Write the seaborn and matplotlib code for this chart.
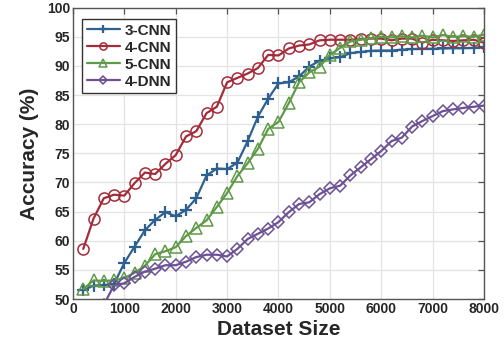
import numpy as np
import pandas as pd
import matplotlib
matplotlib.use("Agg")
import matplotlib.pyplot as plt
import seaborn as sns

# dataset sizes (x) and accuracy values
sizes = [200, 400, 600, 800, 1000, 1200, 1400, 1600, 1800, 2000,
         2200, 2400, 2600, 2800, 3000, 3200, 3400, 3600, 3800, 4000,
         4200, 4400, 4600, 4800, 5000, 5200, 5400, 5600, 5800, 6000,
         6200, 6400, 6600, 6800, 7000, 7200, 7400, 7600, 7800, 8000]

cnn3 = [51.5, 52.3, 52.4, 52.6, 56.2, 59.0, 61.8, 63.6, 64.9, 64.2,
        65.3, 67.3, 71.2, 72.4, 72.3, 73.4, 77.1, 81.3, 84.4, 87.0,
        87.2, 88.2, 89.9, 90.9, 91.3, 91.5, 92.2, 92.4, 92.6, 92.65,
        92.65, 92.8, 92.9, 92.95, 92.95, 93.0, 93.05, 93.05, 93.1, 93.2]

cnn4 = [58.6, 63.8, 67.3, 67.9, 67.75, 69.9, 71.7, 71.45, 73.2, 74.7,
        77.9, 78.8, 81.9, 83.0, 87.2, 87.95, 88.7, 89.65, 91.9, 91.8,
        93.0, 93.5, 93.7, 94.4, 94.5, 94.5, 94.5, 94.6, 94.7, 94.7,
        94.4, 94.7, 94.7, 94.0, 94.5, 94.4, 94.3, 94.4, 94.5, 94.0]

cnn5 = [51.7, 53.2, 53.1, 53.2, 53.6, 54.5, 55.7, 57.7, 58.2, 58.9,
        60.8, 62.2, 63.5, 65.8, 68.2, 71.1, 73.3, 75.8, 79.2, 80.4,
        83.6, 87.2, 88.9, 89.9, 91.9, 93.1, 94.2, 94.5, 94.8, 95.0,
        94.9, 95.1, 94.9, 95.2, 94.9, 95.3, 95.0, 95.1, 95.0, 95.4]

dnn4 = [np.nan, np.nan, 49.0, 52.4, 52.7, 53.8, 54.7, 55.2, 55.8, 55.8,
        56.4, 57.2, 57.6, 57.6, 57.3, 58.6, 60.3, 61.2, 62.1, 63.2,
        64.9, 66.3, 66.6, 68.0, 69.0, 69.45, 71.2, 72.6, 74.0, 75.4,
        77.1, 77.7, 79.6, 80.55, 81.4, 82.25, 82.55, 82.8, 83.0, 83.2]

labels = ["3-CNN", "4-CNN", "5-CNN", "4-DNN"]
colors = ["#2f6190", "#a42c3a", "#5e9a48", "#6c5194"]
markers = ["+", "o", "^", "D"]
msizes = [9, 8, 8.5, 6.5]

df = pd.DataFrame({"size": sizes, "3-CNN": cnn3, "4-CNN": cnn4,
                   "5-CNN": cnn5, "4-DNN": dnn4})

sns.set_style("whitegrid")
plt.rcParams["font.family"] = ["Liberation Sans", "DejaVu Sans"]
plt.rcParams["font.weight"] = "bold"

fig = plt.figure(figsize=(5.04, 3.44), dpi=100)
ax = fig.add_axes([0.1448, 0.1308, 0.8155, 0.8468])

for lab, col, mk, ms in zip(labels, colors, markers, msizes):
    sns.lineplot(data=df, x="size", y=lab, ax=ax, color=col, label=lab,
                 marker=mk, markersize=ms, markerfacecolor="none",
                 markeredgecolor=col, markeredgewidth=1.6 if mk == "+" else 1.1,
                 linewidth=1.6)

ax.set_xlim(0, 8000)
ax.set_ylim(50, 100)
ax.set_xticks(range(0, 8001, 1000))
ax.set_yticks(range(50, 101, 5))
ax.grid(True, color="#e3e3e3", linewidth=0.9)
for s in ax.spines.values():
    s.set_color("#555555")
    s.set_linewidth(1.0)
ax.tick_params(direction="in", length=4, width=0.9, color="#555555",
               labelsize=10, top=True, right=True, pad=2)
for t in ax.get_xticklabels() + ax.get_yticklabels():
    t.set_fontweight("bold")

ax.set_xlabel("Dataset Size", fontsize=15, fontweight="bold", labelpad=3)
ax.set_ylabel("Accuracy (%)", fontsize=15, fontweight="bold", labelpad=6)

leg = ax.legend(loc="upper left", bbox_to_anchor=(0.022, 0.961),
                fontsize=11, frameon=True, fancybox=False, framealpha=1,
                handlelength=2.2, handletextpad=0.3, labelspacing=0.2,
                borderpad=0.3, borderaxespad=0, markerscale=0.65)
leg.get_frame().set_edgecolor("#333333")
leg.get_frame().set_linewidth(1.0)
for t in leg.get_texts():
    t.set_fontweight("bold")

fig.savefig("out.png", dpi=100)
